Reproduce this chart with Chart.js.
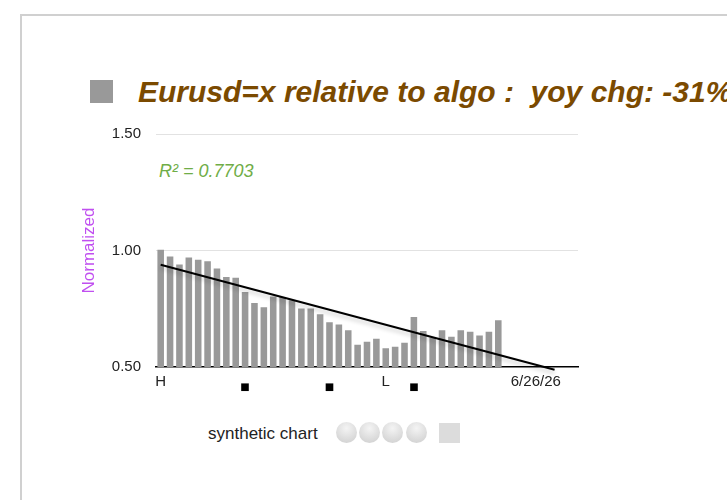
<!DOCTYPE html>
<html>
<head>
<meta charset="utf-8">
<script src="https://cdn.jsdelivr.net/npm/chart.js@4/dist/chart.umd.min.js"></script>
<style>
  html, body { margin: 0; padding: 0; background: #fff; overflow: hidden; width: 727px; height: 500px; }
  body { position: relative; font-family: 'Liberation Sans', Arial, sans-serif; }
  .frame { position: absolute; left: 20px; top: 14px; width: 900px; height: 700px;
    border-top: 2px solid #d0d0d0; border-left: 2px solid #d0d0d0; }
  .title-box { position: absolute; left: 90px; top: 80px; width: 23px; height: 23px; background: #999; }
  .title { position: absolute; left: 138px; top: 77px; font-size: 30px; line-height: 30px;
    font-weight: bold; font-style: italic; color: #7b4a00; white-space: pre; }
  .r2 { position: absolute; left: 159px; top: 162px; font-size: 18px; line-height: 18px;
    font-style: italic; color: #70ad47; white-space: pre; }
  #wrap { position: absolute; left: 78px; top: 110px; }
  .foot { position: absolute; left: 208px; top: 425px; font-size: 17px; line-height: 17px; color: #222; }
  .dot { position: absolute; top: 422px; width: 21px; height: 21px; border-radius: 50%;
    background: radial-gradient(circle at 50% 30%, #f4f4f4, #d6d6d6 75%, #cfcfcf); }
  .sq { position: absolute; left: 439px; top: 423px; width: 21px; height: 20px; background: #dcdcdc; }
</style>
</head>
<body>
<div class="frame"></div>
<div class="title-box"></div>
<div class="title">Eurusd=x relative to algo :  yoy chg: -31%</div>
<div class="r2">R² = 0.7703</div>
<div id="wrap"><canvas id="chart" width="530" height="286"></canvas></div>
<div class="foot">synthetic chart</div>
<div class="dot" style="left:336px"></div>
<div class="dot" style="left:359px"></div>
<div class="dot" style="left:382px"></div>
<div class="dot" style="left:406px"></div>
<div class="sq"></div>
<script>
// 45 slots on the x axis: 37 bars, the trend runs on past them
const tickLabels = [
  'H', '', '', '', '', '', '', '', '', '■',
  '', '', '', '', '', '', '', '', '■', '',
  '', '', '', '', 'L', '', '', '■', '', '',
  '', '', '', '', '', '', '', '', '', '',
  '6/26/26', '', '', '', ''
];

const normalized = [
  1.003, 0.974, 0.940, 0.970, 0.960, 0.954, 0.923, 0.886, 0.883, 0.822,
  0.775, 0.756, 0.803, 0.800, 0.786, 0.751, 0.751, 0.726, 0.692, 0.682,
  0.658, 0.595, 0.608, 0.621, 0.580, 0.587, 0.604, 0.715, 0.655, 0.627,
  0.658, 0.630, 0.658, 0.651, 0.635, 0.651, 0.701
];

// trend line end points (first slot, slot 42)
const trendStart = 0.939;
const trendEnd = 0.488;
const trendLastSlot = 42;

const yTicks = [0.5, 1.0, 1.5];

const trend = tickLabels.map((_, i) =>
  i === 0 ? trendStart : i === trendLastSlot ? trendEnd : null
);

const lineShadow = {
  id: 'lineShadow',
  beforeDatasetDraw(chart, args) {
    if (args.index !== 1) return;
    const ctx = chart.ctx;
    ctx.save();
    ctx.shadowColor = 'rgba(0,0,0,0.22)';
    ctx.shadowBlur = 4;
    ctx.shadowOffsetY = 3;
  },
  afterDatasetDraw(chart, args) {
    if (args.index !== 1) return;
    chart.ctx.restore();
  }
};

new Chart(document.getElementById('chart'), {
  type: 'bar',
  data: {
    labels: tickLabels,
    datasets: [
      {
        type: 'bar',
        data: normalized,
        backgroundColor: '#999999',
        categoryPercentage: 1,
        barPercentage: 0.7,
        order: 2
      },
      {
        type: 'line',
        data: trend,
        borderColor: '#000',
        borderWidth: 2,
        pointRadius: 0,
        spanGaps: true,
        clip: false,
        order: 1
      }
    ]
  },
  options: {
    responsive: false,
    animation: false,
    layout: { padding: { top: 7, right: 30, left: 0, bottom: 0 } },
    plugins: { legend: { display: false }, tooltip: { enabled: false } },
    scales: {
      x: {
        grid: { display: false, drawTicks: false },
        border: { display: true, color: '#000', width: 1.5 },
        afterFit: (scale) => { scale.height = 29; },
        ticks: {
          autoSkip: false,
          maxRotation: 0,
          padding: 6,
          color: (ctx) => (tickLabels[ctx.index] === '■' ? '#000' : '#222'),
          font: (ctx) =>
            tickLabels[ctx.index] === '■'
              ? { family: 'DejaVu Sans', size: 10, lineHeight: 2.8 }
              : { family: "'Liberation Sans', Arial, sans-serif", size: 15 }
        }
      },
      y: {
        min: 0.5,
        max: 1.5,
        afterFit: (scale) => { scale.width = 78; },
        afterBuildTicks: (scale) => { scale.ticks = yTicks.map((v) => ({ value: v })); },
        border: { display: false },
        grid: {
          drawTicks: false,
          color: (ctx) => (ctx.tick && ctx.tick.value === 0.5 ? 'rgba(0,0,0,0)' : '#e2e2e2'),
          lineWidth: 1
        },
        ticks: {
          padding: 15,
          color: '#222',
          font: { family: "'Liberation Sans', Arial, sans-serif", size: 15 },
          callback: (v) => Number(v).toFixed(2)
        },
        title: {
          display: true,
          text: 'Normalized',
          color: '#c04ff0',
          padding: { top: 1, bottom: 0 },
          font: { family: "'Liberation Sans', Arial, sans-serif", size: 17 }
        }
      }
    }
  },
  plugins: [lineShadow]
});
</script>
</body>
</html>
